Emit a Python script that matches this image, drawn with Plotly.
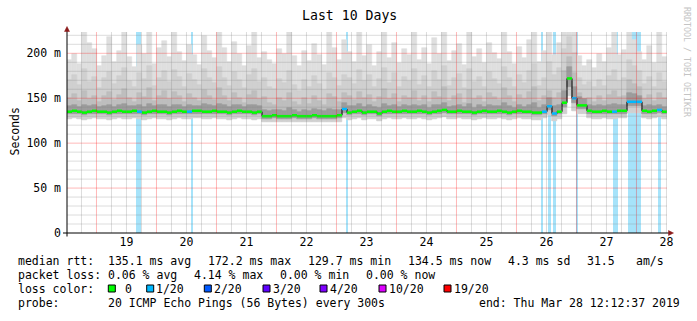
import plotly.graph_objects as go
import pandas as pd

# ---------------- data ----------------
start = pd.Timestamp("2019-03-18 12:12:37")
end = pd.Timestamp("2019-03-28 12:12:37")
step_hours = 2  # each consolidated column

median = [
    135,136,135,134,135,136,135,135,134,135,
    136,135,135,136,135,134,135,136,135,135,
    134,135,136,135,135,136,136,135,135,136,
    135,135,134,135,136,135,135,134,135,130,
    130,131,130,130,130,131,130,130,130,131,
    130,130,130,130,131,138,134,135,136,134,
    135,135,133,135,136,135,135,136,135,135,
    136,135,134,135,136,137,135,135,136,135,
    135,134,135,136,135,135,136,135,134,135,
    136,135,135,134,134,135,141,133,135,145,
    172,150,142,142,136,135,135,136,135,135,
    136,136,146,146,146,136,135,136,137,135,
]
median_loss = [
    0,0,0,0,0,0,0,0,0,0,
    0,0,0,0,1,0,0,0,0,0,
    0,0,0,0,1,0,0,0,0,0,
    0,0,0,0,0,0,0,0,0,0,
    0,0,0,0,0,0,0,0,0,0,
    0,0,0,0,0,1,0,0,0,0,
    0,0,0,0,0,0,0,0,0,0,
    0,0,0,0,0,0,0,0,0,0,
    0,0,0,0,0,0,0,0,0,0,
    0,0,0,0,0,1,1,1,0,0,
    0,1,0,0,0,0,0,0,0,1,
    0,0,1,1,1,0,0,0,1,0,
]
smoke_max = [
    192,199,188,224,212,205,186,197,218,190,
    203,224,196,185,209,199,224,188,206,214,
    196,224,201,191,209,198,187,219,203,195,
    224,206,190,213,199,186,208,224,195,201,
    192,188,205,199,224,197,186,203,191,210,
    198,187,224,206,193,215,201,190,224,197,
    209,186,202,224,195,211,189,205,198,224,
    193,206,188,217,199,224,191,203,210,187,
    224,196,205,189,212,200,194,224,201,188,
    207,195,215,224,190,203,224,198,212,224,
    224,224,197,186,193,184,199,190,206,224,
    198,204,224,215,201,193,208,189,224,196,
]
smoke_p90 = [
    170,176,165,182,168,174,161,172,179,166,
    175,184,169,163,178,171,186,164,173,180,
    168,181,174,162,177,170,165,183,172,167,
    185,173,164,179,170,161,176,182,168,172,
    163,160,171,167,180,165,158,170,162,175,
    166,159,178,172,164,176,173,166,181,169,
    176,162,171,184,167,178,163,174,169,182,
    165,175,162,180,170,186,164,172,177,161,
    183,168,174,163,179,171,166,185,172,162,
    176,167,180,188,164,173,190,176,184,205,
    218,200,172,165,168,162,170,164,175,181,
    169,173,192,186,180,166,174,163,178,168,
]
smoke_p75 = [
    150,155,147,158,149,153,146,152,157,148,
    154,160,150,146,156,151,161,147,152,158,
    149,157,153,146,155,150,147,159,152,148,
    161,152,147,156,150,145,154,158,149,151,
    145,143,150,147,156,146,142,150,144,152,
    147,142,155,151,146,156,153,148,157,150,
    154,146,151,160,149,155,146,153,150,158,
    147,153,146,157,151,162,147,152,155,145,
    159,149,153,146,156,151,148,161,152,146,
    154,149,157,163,147,152,158,150,156,180,
    196,178,156,149,150,146,152,147,154,158,
    151,153,170,166,163,149,154,147,156,150,
]
smoke_p60 = [
    141,142,140,143,141,142,140,141,143,140,
    142,144,141,141,143,140,144,141,142,143,
    140,143,142,140,142,141,141,144,142,141,
    144,142,140,143,142,140,142,143,141,137,
    136,137,137,136,139,137,135,137,136,138,
    137,136,138,137,137,145,141,141,144,140,
    142,140,139,144,141,142,140,142,141,143,
    141,142,139,143,142,145,140,141,143,140,
    144,139,142,140,143,141,141,145,141,139,
    143,140,143,145,139,142,150,141,143,158,
    185,162,151,149,142,141,142,141,143,144,
    142,143,156,155,153,141,142,141,143,140,
]
smoke_p25 = [
    132,133,132,131,132,133,132,132,131,132,
    133,132,132,133,132,131,132,133,132,132,
    131,132,133,132,132,133,133,132,132,133,
    132,132,131,132,133,132,132,131,132,127,
    127,128,127,127,127,128,127,127,127,128,
    127,127,127,127,128,134,131,132,133,131,
    132,132,130,132,133,132,132,133,132,132,
    133,132,131,132,133,134,132,132,133,132,
    132,131,132,133,132,132,133,132,131,132,
    133,132,132,131,131,133,137,130,132,140,
    163,145,138,138,133,132,132,133,132,132,
    133,133,141,141,141,133,132,133,134,132,
]
smoke_min = [
    127,128,127,126,127,128,127,127,126,127,
    128,127,127,128,127,126,127,128,127,127,
    126,127,128,127,127,128,128,127,127,128,
    127,127,126,127,128,127,127,126,127,123,
    123,124,123,123,123,124,123,123,123,124,
    123,123,123,123,124,128,126,127,128,126,
    127,127,125,127,128,127,127,128,127,127,
    128,127,126,127,128,129,127,127,128,127,
    127,126,127,128,127,127,128,127,126,127,
    128,127,127,126,126,128,131,125,127,133,
    152,136,132,132,128,127,127,128,127,127,
    128,128,134,134,134,128,127,128,129,127,
]
# loss events: hours after start, duration in hours
loss_start_h = [27.6, 49.6, 111.5, 189.6, 192.4, 194.3, 203.6, 218.4, 224.4, 236.3]
loss_len_h = [2.1, 0.8, 1.0, 0.8, 1.2, 1.2, 0.5, 2.0, 5.2, 1.2]

day_labels = ["19", "20", "21", "22", "23", "24", "25", "26", "27", "28"]
y_tick_vals = [0, 50, 100, 150, 200]
y_tick_text = ["0", "50 m", "100 m", "150 m", "200 m"]
Y_TOP = 223.7

loss_names = [" 0", "1/20", "2/20", "3/20", "4/20", "10/20", "19/20"]
loss_colors = ["#00ff00", "#00b8ff", "#0059ff", "#5e00ff", "#7e00ff", "#dd00ff", "#ff0000"]
level_color = {0: "#00ff00", 1: "#00b8ff", 2: "#0059ff", 3: "#5e00ff", 4: "#7e00ff", 10: "#dd00ff", 19: "#ff0000"}

# ---------------- figure ----------------
n = len(median)
step = pd.Timedelta(hours=step_hours)
col_start = [start + step * i for i in range(n)]
col_mid = [t + step / 2 for t in col_start]
col_w = step_hours * 3600 * 1000

fig = go.Figure()

# loss background bars
fig.add_trace(go.Bar(
    x=[start + pd.Timedelta(hours=s + l / 2) for s, l in zip(loss_start_h, loss_len_h)],
    y=[Y_TOP] * len(loss_start_h), base=0,
    width=[l * 3600 * 1000 for l in loss_len_h],
    marker=dict(color="#a6e3fa", line=dict(width=0)), hoverinfo="skip"))

layers = [
    (smoke_min, smoke_max, "#dfdfdf"),
    (smoke_min, smoke_p90, "#d0d0d0"),
    (smoke_p25, smoke_p75, "#bebebe"),
    (smoke_p25, smoke_p60, "#9c9c9c"),
]
for lo, hi, c in layers:
    fig.add_trace(go.Bar(
        x=col_mid, y=[h - l for l, h in zip(lo, hi)], base=lo, width=col_w,
        marker=dict(color=c, line=dict(width=0.6, color=c)), hoverinfo="skip"))

# median: thin black step line
fig.add_trace(go.Scatter(
    x=col_start + [end], y=median + [median[-1]], mode="lines",
    line=dict(color="#000000", width=1, shape="hv"), hoverinfo="skip"))

# coloured horizontal segments by loss
segs = {}
for i in range(n):
    xs, ys = segs.setdefault(median_loss[i], ([], []))
    xs += [col_start[i], col_start[i] + step, None]
    ys += [median[i], median[i], None]
for lvl, (xs, ys) in segs.items():
    fig.add_trace(go.Scatter(x=xs, y=ys, mode="lines",
                             line=dict(color=level_color[lvl], width=2.5), hoverinfo="skip"))

# ---------------- layout ----------------
L, T, W, H = 67, 32, 600, 201


def px(x):
    return (x - L) / W


def py(y):
    return (T + H - y) / H


shapes = []
# vertical grid (every 6h minor, midnight major)
t = pd.Timestamp("2019-03-18 18:00:00")
while t <= end:
    major = t.hour == 0
    shapes.append(dict(type="line", xref="x", yref="paper", x0=t, x1=t, y0=0, y1=1, layer="above",
                       line=dict(color="rgba(255,0,0,0.28)" if major else "rgba(128,128,128,0.28)", width=1)))
    t += pd.Timedelta(hours=6)
for v in range(10, 230, 10):
    if v > Y_TOP:
        break
    major = v % 50 == 0
    shapes.append(dict(type="line", xref="paper", yref="y", x0=0, x1=1, y0=v, y1=v, layer="above",
                       line=dict(color="rgba(255,0,0,0.28)" if major else "rgba(128,128,128,0.28)", width=1)))

# axis lines and arrows
shapes.append(dict(type="line", xref="paper", yref="paper", x0=px(63), x1=px(670), y0=0, y1=0,
                   line=dict(color="black", width=1), layer="above"))
shapes.append(dict(type="line", xref="paper", yref="paper", x0=0, x1=0, y0=py(236.5), y1=py(30),
                   line=dict(color="black", width=1), layer="above"))
shapes.append(dict(type="path", xref="paper", yref="paper",
                   path=f"M {px(64.5)},{py(31.5)} L {px(67)},{py(26.5)} L {px(69.5)},{py(31.5)} Z",
                   fillcolor="#8b1a1a", line=dict(color="#8b1a1a", width=0.5), layer="above"))
shapes.append(dict(type="path", xref="paper", yref="paper",
                   path=f"M {px(668.5)},{py(230.5)} L {px(673.5)},{py(233)} L {px(668.5)},{py(235.5)} Z",
                   fillcolor="#8b1a1a", line=dict(color="#8b1a1a", width=0.5), layer="above"))

MONO = "DejaVu Sans Mono"
ann = []


def text(x, y, s, size=11.5, color="#000000", anchor="left", angle=0):
    ann.append(dict(x=px(x), y=py(y), xref="paper", yref="paper", text=s, showarrow=False,
                    xanchor=anchor, yanchor="middle", textangle=angle, borderpad=0,
                    font=dict(family=MONO, size=size, color=color)))


text(349, 16, "Last 10 Days", size=13.2, anchor="center")
text(14.5, 132, "Seconds", anchor="center", angle=-90)
text(687, 62, "RRDTOOL / TOBI OETIKER", size=8.3, color="#c4c4c4", anchor="center", angle=90)

# legend rows
text(16.5, 261, "median rtt:")
for x, s in zip([107, 207, 306.5, 406.5, 506.5, 585.5, 635],
                ["135.1 ms avg", "172.2 ms max", "129.7 ms min", "134.5 ms now", "4.3 ms sd", "31.5", "am/s"]):
    text(x, 261, s)
text(16.5, 275, "packet loss:")
for x, s in zip([107, 192.5, 279, 365], ["0.06 % avg", "4.14 % max", "0.00 % min", "0.00 % now"]):
    text(x, 275, s)
text(16.5, 289, "loss color:")
sq_x = [108.3, 146.7, 204.3, 263, 320, 379, 444]
for sx, name, col in zip(sq_x, loss_names, loss_colors):
    shapes.append(dict(type="rect", xref="paper", yref="paper", x0=px(sx), x1=px(sx + 7),
                       y0=py(292), y1=py(285), fillcolor=col, line=dict(color="black", width=1)))
    text(sx + 8.5, 289, name)
text(16.5, 303, "probe:")
text(107, 303, "20 ICMP Echo Pings (56 Bytes) every 300s")
text(478, 303, "end: Thu Mar 28 12:12:37 2019")

noon = [pd.Timestamp(f"2019-03-{d} 12:00:00") for d in day_labels]

fig.update_layout(
    width=697, height=321, autosize=False,
    margin=dict(l=L, r=697 - L - W, t=T, b=321 - T - H),
    paper_bgcolor="white", plot_bgcolor="white",
    showlegend=False, barmode="overlay", bargap=0,
    shapes=shapes, annotations=ann,
    xaxis=dict(type="date", range=[start, end], showgrid=False, zeroline=False, showline=False,
               tickvals=noon, ticktext=day_labels, ticks="",
               tickfont=dict(family=MONO, size=11.5, color="black")),
    yaxis=dict(range=[0, Y_TOP], showgrid=False, zeroline=False, showline=False,
               tickvals=y_tick_vals, ticktext=y_tick_text, ticks="", ticklabelstandoff=5,
               tickfont=dict(family=MONO, size=11.5, color="black")),
)

fig.write_html("out.html")
